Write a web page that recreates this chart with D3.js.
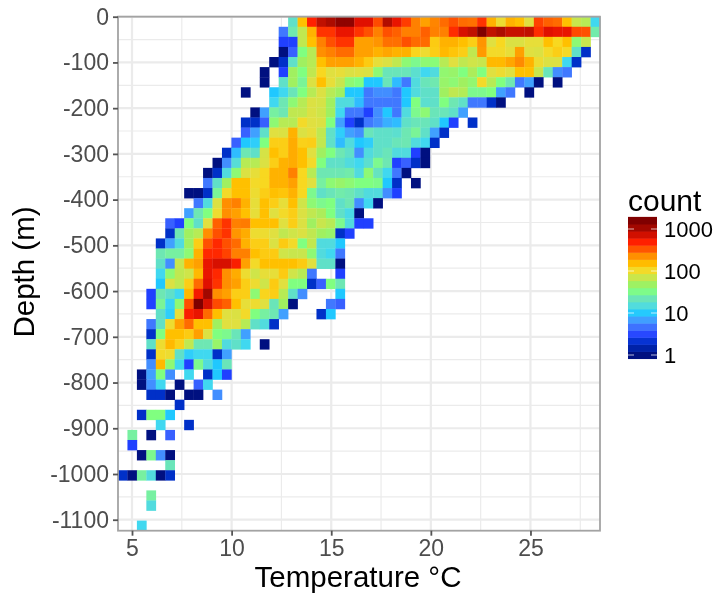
<!DOCTYPE html>
<html>
<head>
<meta charset="utf-8">
<script src="https://cdn.jsdelivr.net/npm/d3@7"></script>
<style>
	html, body { margin: 0; padding: 0; background: #fff; }
	text { font-family: "Liberation Sans", Arial, sans-serif; }
	svg { filter: blur(0.35px); }
</style>
</head>
<body>
<div class="heatDiv"></div>
<script>
// first temperature bin that has a value, one entry per depth row
var firstBin = [18,17,17,17,16,15,15,13,16,14,13,13,12,11,10,9,9,7,8,7,5,5,4,4,4,4,4,3,3,4,3,3,3,3,3,2,2,3,6,2,4,1,1,2,5,0,0,3,3,0,2];

// counts per bin, top row first. 0 means an empty bin
var counts = [
	[18,150,500,850,1000,1300,1300,650,650,370,950,600,420,260,200,250,300,350,300,290,450,170,100,170,150,90,400,320,300,150,70,60,13],
	[5,25,65,170,450,450,600,600,450,350,260,350,320,260,260,320,260,260,470,700,850,1500,850,1000,800,800,850,470,650,600,600,370,350,26],
	[3,3,65,150,260,350,450,450,200,200,220,290,290,350,300,300,130,170,170,150,125,220,90,110,85,85,95,95,150,110,150,40,70],
	[1,4,35,60,230,260,300,300,200,200,170,190,170,170,115,100,125,160,140,125,65,210,105,105,95,200,90,85,105,125,105,18,2],
	[1,2,18,50,60,150,200,200,200,170,130,95,85,65,40,32,40,38,60,90,65,75,70,160,160,190,240,170,100,85,85,13,2],
	[1,0,3,50,35,65,110,90,95,85,90,85,40,22,22,22,17,13,15,42,45,35,55,35,90,100,90,150,150,70,22,6,5],
	[1,0,18,50,30,85,150,95,70,40,35,10,10,22,9,5,15,22,25,45,40,50,42,105,60,35,25,5,7,1,0,1],
	[1,0,0,10,13,22,35,60,85,60,50,10,10,5,6,6,5,10,15,18,18,50,65,58,32,32,35,7,5,0,1],
	[13,24,40,60,85,80,50,15,15,9,5,5,5,5,10,35,17,18,35,24,18,5,5,2,1],
	[1,7,28,24,65,65,85,75,50,13,5,5,3,6,10,5,15,32,40,22,22,18,7],
	[2,2,4,40,60,60,105,90,85,35,7,3,2,5,6,8,9,18,22,22,18,10,3,0,2],
	[4,7,18,90,85,170,85,95,65,18,11,7,6,22,18,18,17,24,30,18,7,2],
	[4,10,11,35,125,125,180,120,125,65,18,9,15,10,11,18,18,22,24,15,13,2],
	[2,9,24,18,80,150,125,180,150,90,50,35,24,18,6,15,18,22,15,15,3,1],
	[1,6,16,60,60,85,125,170,180,150,105,35,18,18,15,13,17,32,24,3,4,2,1],
	[1,2,15,40,85,95,110,170,170,260,110,60,24,24,24,26,15,40,20,13,5,1],
	[5,18,50,150,150,105,110,170,170,200,110,90,28,40,45,40,35,35,33,10,2,0,1],
	[1,1,2,30,105,150,150,100,125,150,140,170,110,32,18,22,26,24,18,15,15,6,3],
	[5,15,85,230,260,170,95,150,125,95,150,75,40,32,35,18,24,6,13,1],
	[7,24,35,100,230,200,150,95,150,90,105,125,85,65,55,35,18,14,1],
	[4,3,35,18,90,320,450,260,270,150,150,150,90,125,85,50,70,60,32,15,3,3],
	[2,24,50,60,230,350,450,220,180,100,100,90,65,75,85,65,50,45,2,3],
	[2,7,15,50,125,350,480,350,300,170,125,125,85,130,105,35,65,15,15,10],
	[24,28,28,40,170,480,480,400,260,260,150,130,130,75,70,70,40,15,13,5],
	[18,6,70,170,200,600,700,700,520,200,105,150,150,150,150,130,90,18,18,1],
	[13,40,65,75,160,600,480,230,180,100,75,95,95,130,75,60,5,0,0,3],
	[10,85,65,125,300,650,450,230,200,125,100,75,130,90,35,35,2,4,35,24],
	[3,24,18,13,160,550,1100,230,200,125,125,40,115,125,60,18,6,0,0,0,10],
	[3,30,12,40,350,1500,700,370,320,150,95,100,90,22,50,1,0,0,0,5,4],
	[18,11,95,520,600,300,150,90,85,105,35,28,24,7,0,0,0,2,10],
	[5,18,100,200,300,150,150,50,90,90,60,18,15,2],
	[2,35,150,150,130,200,85,35,32,22,7],
	[18,100,160,120,65,24,24,45,15,18,13,0,1],
	[2,105,100,18,11,13,13,2,7],
	[6,160,40,13,3,32,15,10,22],
	[1,7,35,6,0,13,0,2,10,3],
	[1,6,13,0,1,0,4,13],
	[2,2,1,0,1,1,0,6],
	[2],
	[2,35,35,10],
	[13,0,0,2],
	[28,0,1,0,4],
	[3],
	[1,32,6,1],
	[22],
	[2,1,28,15,1,2],
	[],
	[28],
	[15],
	[],
	[13]
];

var tempTicks = [5, 10, 15, 20, 25];
var tempMinor = [7.5, 12.5, 17.5, 22.5, 27.5];
var depthTicks = [0, -100, -200, -300, -400, -500, -600, -700, -800, -900, -1000, -1100];
var depthMinor = [-50, -150, -250, -350, -450, -550, -650, -750, -850, -950, -1050];
var legendTicks = [1, 10, 100, 1000];

// colour stops
var colourCounts = [1, 2, 3, 5, 7, 10, 13, 18, 25, 35, 50, 65, 90, 110, 150, 200, 260, 350, 500, 650, 850, 1100, 1500];
var colourValues = ["#001080", "#0030c8", "#2040ff", "#4078ff", "#40a0ff", "#20c8ff", "#40d8f0", "#60e0c8", "#70e8b0", "#80ff80", "#a0f060", "#c0e850", "#e0e040", "#f8d820", "#ffc000", "#ffa000", "#ff8000", "#ff5000", "#ff2000", "#e01000", "#c01000", "#a00800", "#800000"];
var countMax = 1600;

var tempDomain = [4.297, 28.49], depthDomain = [0, -1124];
var binCount = 51;
var tempStep = (tempDomain[1] - tempDomain[0]) / binCount;
var depthStep = (depthDomain[1] - depthDomain[0]) / binCount;

var panel = {left: 118, right: 600, top: 16.7, bottom: 530.7};

var svg = d3.select(".heatDiv").append("svg")
	.attr("width", 717)
	.attr("height", 594)
	.style("display", "block");

var xScale = d3.scaleLinear().domain(tempDomain).range([panel.left, panel.right]);
var yScale = d3.scaleLinear().domain(depthDomain).range([panel.top, panel.bottom]);

var colour = d3.scaleLog().domain(colourCounts).range(colourValues).interpolate(d3.interpolateLab).clamp(true);

// grid
var grid = svg.append("g").attr("class", "grid");
function gridLines(values, vertical, w)
{
	grid.selectAll(null)
		.data(values)
		.enter().append("line")
		.attr("x1", function (d) { return vertical ? xScale(d) : panel.left; })
		.attr("x2", function (d) { return vertical ? xScale(d) : panel.right; })
		.attr("y1", function (d) { return vertical ? panel.top : yScale(d); })
		.attr("y2", function (d) { return vertical ? panel.bottom : yScale(d); })
		.attr("stroke", "#ebebeb")
		.attr("stroke-width", w);
}
gridLines(tempMinor, true, 1.2);
gridLines(depthMinor, false, 1.2);
gridLines(tempTicks, true, 2.2);
gridLines(depthTicks, false, 2.2);

// flatten rows into cells
var cells = [];
counts.forEach(function (row, r) {
	row.forEach(function (n, i) {
		if (n > 0) cells.push({row: r, col: firstBin[r] + i, count: n});
	});
});

// a little overlap so no seams show between neighbours
svg.append("g").attr("class", "cells")
	.selectAll("rect")
	.data(cells)
	.enter().append("rect")
	.attr("x", function (d) { return xScale(tempDomain[0] + d.col * tempStep); })
	.attr("y", function (d) { return yScale(depthDomain[0] + d.row * depthStep); })
	.attr("width", xScale(tempDomain[0] + tempStep) - xScale(tempDomain[0]) + 0.3)
	.attr("height", yScale(depthDomain[0] + depthStep) - yScale(depthDomain[0]) + 0.3)
	.attr("fill", function (d) { return colour(d.count); });

// panel border
svg.append("rect")
	.attr("x", panel.left)
	.attr("y", panel.top)
	.attr("width", panel.right - panel.left)
	.attr("height", panel.bottom - panel.top)
	.attr("fill", "none")
	.attr("stroke", "#a3a3a3")
	.attr("stroke-width", 1.8);

// axes
function styleAxis(g)
{
	g.select(".domain").remove();
	g.selectAll(".tick line").attr("stroke", "#555").attr("stroke-width", 1.8);
	g.selectAll(".tick text")
		.attr("fill", "#4d4d4d")
		.style("font-size", "23px")
		.style("font-family", '"Liberation Sans", Arial, sans-serif');
}

svg.append("g")
	.attr("transform", "translate(0," + panel.bottom + ")")
	.call(d3.axisBottom(xScale).tickValues(tempTicks).tickSize(5).tickPadding(4).tickFormat(d3.format("d")))
	.call(styleAxis);

svg.append("g")
	.attr("transform", "translate(" + panel.left + ",0)")
	.call(d3.axisLeft(yScale).tickValues(depthTicks).tickSize(5).tickPadding(4).tickFormat(function (d) { return String(d); }))
	.call(styleAxis);

svg.append("text")
	.attr("x", 358)
	.attr("y", 587)
	.attr("text-anchor", "middle")
	.style("font-size", "29.5px")
	.attr("fill", "#000")
	.text("Temperature °C");

svg.append("text")
	.attr("transform", "translate(34,272) rotate(-90)")
	.attr("text-anchor", "middle")
	.style("font-size", "29.5px")
	.attr("fill", "#000")
	.text("Depth (m)");

// colour legend, 20 steps like the ggplot colourbar
var legendScale = d3.scaleLog().domain([1, 1000]).range([355, 229]);
var legendBandCount = 20;
var bandH = (legendScale(1) - legendScale(countMax)) / (legendBandCount - 1);
var bands = d3.range(legendBandCount).map(function (i) {
	return Math.pow(10, Math.log10(countMax) * i / (legendBandCount - 1));
});

var legend = svg.append("g").attr("class", "legend");

legend.selectAll("rect")
	.data(bands)
	.enter().append("rect")
	.attr("x", 628)
	.attr("y", function (d) { return legendScale(d) - bandH / 2; })
	.attr("width", 29)
	.attr("height", bandH + 0.5)
	.attr("fill", function (d) { return colour(d); });

legend.selectAll(".lt")
	.data(legendTicks)
	.enter().append("path")
	.attr("class", "lt")
	.attr("d", function (d) {
		var y = legendScale(d);
		return "M628," + y + "h6M651," + y + "h6";
	})
	.attr("stroke", "#fff")
	.attr("stroke-opacity", 0.7)
	.attr("stroke-width", 1);

legend.selectAll("text")
	.data(legendTicks)
	.enter().append("text")
	.attr("x", 664)
	.attr("y", function (d) { return legendScale(d); })
	.attr("dy", "0.36em")
	.style("font-size", "22px")
	.attr("fill", "#000")
	.text(function (d) { return d; });

svg.append("text")
	.attr("x", 628)
	.attr("y", 211)
	.style("font-size", "30px")
	.attr("fill", "#000")
	.text("count");
</script>
</body>
</html>
